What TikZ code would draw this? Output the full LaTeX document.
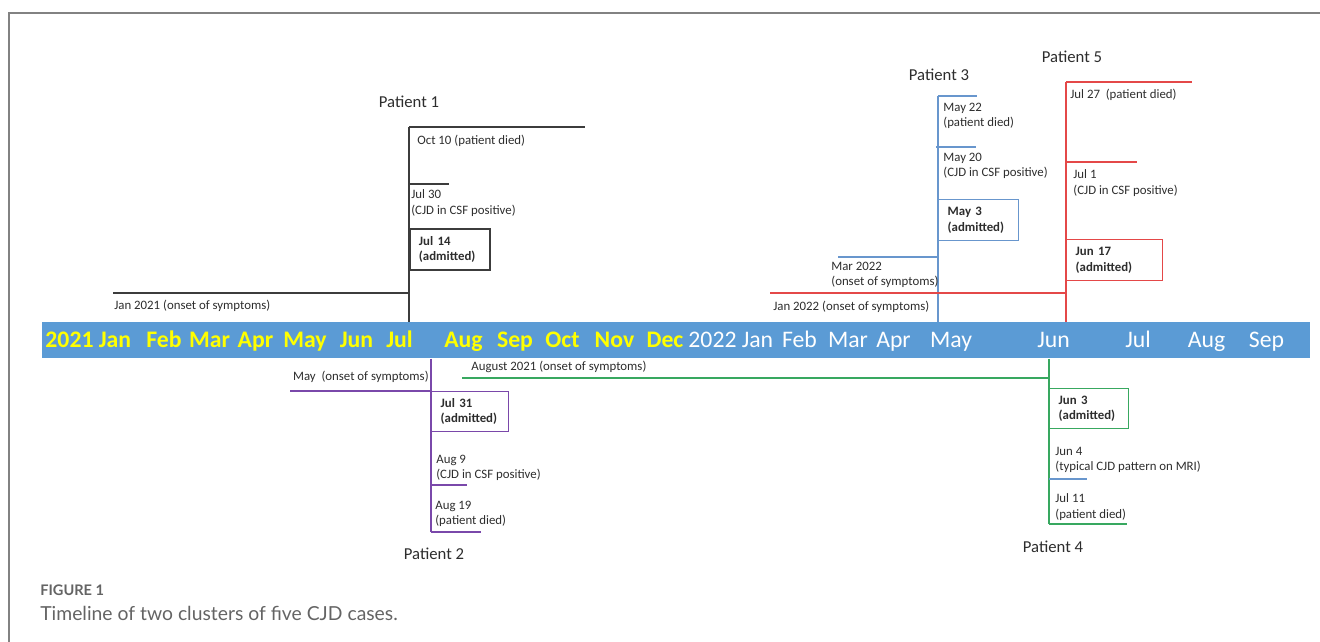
\documentclass[tikz,border=0pt]{standalone}
\usepackage{fontspec}
\setmainfont{Carlito}
\newfontfamily\capfont{Lato}
\usetikzlibrary{positioning}

\definecolor{barblue}{RGB}{91,155,213}
\definecolor{baryellow}{RGB}{255,255,0}
\definecolor{pone}{RGB}{60,60,60}
\definecolor{ptwo}{RGB}{122,72,170}
\definecolor{pthree}{RGB}{104,150,205}
\definecolor{pfour}{RGB}{56,168,96}
\definecolor{pfive}{RGB}{228,72,72}
\definecolor{txtgray}{RGB}{45,45,45}
\definecolor{framegray}{RGB}{130,130,130}
\definecolor{capgray}{RGB}{100,100,100}

\tikzset{
  evtext/.style={anchor=west, align=left, inner sep=0pt},
  ptitle/.style={inner sep=0pt, font=\fontsize{9.5}{11}\selectfont},
  admbox/.style={draw, line width=0.8pt, anchor=north west, align=left,
    inner xsep=1.8mm, inner ysep=0pt, font=\fontsize{7.3}{8.8}\selectfont\bfseries},
  tline/.style={line width=0.8pt},
  month/.style={anchor=base, inner sep=0pt, font=\fontsize{13.5}{14}\selectfont}
}

\begin{document}
\begin{tikzpicture}[x=0.2mm, y=-0.2mm, font=\fontsize{7.3}{8.8}\selectfont, text=txtgray]

\useasboundingbox (0,0) rectangle (1320,642);

%--- figure frame (top and left only)
\draw[framegray, line width=1.1pt] (9,642) -- (9,13) -- (1320,13);

%--- the time axis bar
\node[fill=barblue, inner sep=0pt, minimum width=253.6mm, minimum height=7.2mm,
  anchor=north west] (axis) at (42,322) {};

% 2021 in yellow bold
\foreach \lbl/\xc [count=\i] in {2021/69.5, Jan/115, Feb/164, Mar/209.5, Apr/255.5,
    May/305, Jun/356.5, Jul/399.5, Aug/463.5, Sep/515, Oct/562.5, Nov/614.5, Dec/665}
  \node[month, text=baryellow, font=\fontsize{13.5}{14}\selectfont\bfseries] (ya\i) at (\xc,347) {\lbl};
% 2022 in white
\foreach \lbl/\xc [count=\i] in {2022/712.5, Jan/757.5, Feb/799.5, Mar/848, Apr/893.5,
    May/951, Jun/1053.5, Jul/1138, Aug/1206.5, Sep/1266.5}
  \node[month, text=white] (yb\i) at (\xc,347) {\lbl};

%--- Patient 1 (above, black)
\node[ptitle] (p1title) at (409,102) {Patient 1};
\coordinate (p1top) at (409,127);
\coordinate (p1died) at (585,127);
\coordinate (p1csf) at (409,184);
\coordinate (p1csfend) at (449,184);
\coordinate (p1onset) at (113,293);
\coordinate (p1onsetend) at (409,293);
\draw[tline, pone] (p1top) -- (p1top |- axis.north);
\draw[tline, pone] (p1top) -- (p1died);
\draw[tline, pone] (p1csf) -- (p1csfend);
\draw[tline, pone] (p1onset) -- (p1onsetend);
\node[evtext] (p1lbldied) at (417,141) {Oct 10 (patient died)};
\node[evtext] (p1lblcsf) at (411,203) {Jul 30\\(CJD in CSF positive)};
\node[admbox, draw=pone, line width=1.1pt, minimum width=16mm, minimum height=8.2mm,
  text width=12.4mm] (p1adm) at (409,228) {Jul 14\\(admitted)};
\node[evtext] (p1lblonset) at (114,306) {Jan 2021 (onset of symptoms)};

%--- Patient 2 (below, purple)
\coordinate (p2bot) at (431,532);
\coordinate (p2died) at (481,532);
\coordinate (p2csf) at (431,485);
\coordinate (p2csfend) at (467,485);
\coordinate (p2onset) at (290,391);
\coordinate (p2onsetend) at (431,391);
\draw[tline, ptwo] (p2bot |- axis.south) -- (p2bot);
\draw[tline, ptwo] (p2bot) -- (p2died);
\draw[tline, ptwo] (p2csf) -- (p2csfend);
\draw[tline, ptwo] (p2onset) -- (p2onsetend);
\node[evtext, anchor=east] (p2lblonset) at (429,377) {May\ \ (onset of symptoms)};
\node[admbox, draw=ptwo, minimum width=15.4mm, minimum height=8mm,
  text width=11.8mm] (p2adm) at (431,391) {Jul 31\\(admitted)};
\node[evtext] (p2lblcsf) at (436,468) {Aug 9\\(CJD in CSF positive)};
\node[evtext] (p2lbldied) at (435,514) {Aug 19\\(patient died)};
\node[ptitle] (p2title) at (434,554) {Patient 2};

%--- Patient 3 (above, blue)
\node[ptitle] (p3title) at (939,75) {Patient 3};
\coordinate (p3top) at (938,96);
\coordinate (p3died) at (977,96);
\coordinate (p3csf) at (936,147);
\coordinate (p3csfend) at (976,147);
\coordinate (p3onset) at (838,257);
\coordinate (p3onsetend) at (938,257);
\draw[tline, pthree] (p3top) -- (p3top |- axis.north);
\draw[tline, pthree] (p3top) -- (p3died);
\draw[tline, pthree] (p3csf) -- (p3csfend);
\draw[tline, pthree] (p3onset) -- (p3onsetend);
\node[evtext] (p3lbldied) at (943,116) {May 22\\(patient died)};
\node[evtext] (p3lblcsf) at (943,166) {May 20\\(CJD in CSF positive)};
\node[admbox, draw=pthree, minimum width=16mm, minimum height=8.2mm,
  text width=12.4mm] (p3adm) at (938,199) {May 3\\(admitted)};
\node[evtext] (p3lblonset) at (831,275) {Mar 2022\\(onset of symptoms)};

%--- Patient 5 (above, red)
\node[ptitle] (p5title) at (1072,57) {Patient 5};
\coordinate (p5top) at (1066,82);
\coordinate (p5died) at (1192,82);
\coordinate (p5csf) at (1066,162);
\coordinate (p5csfend) at (1137,162);
\coordinate (p5onset) at (770,293);
\coordinate (p5onsetend) at (1066,293);
\draw[tline, pfive] (p5top) -- (p5top |- axis.north);
\draw[tline, pfive] (p5top) -- (p5died);
\draw[tline, pfive] (p5csf) -- (p5csfend);
\draw[tline, pfive] (p5onset) -- (p5onsetend);
\node[evtext] (p5lbldied) at (1070,95) {Jul 27\ \ (patient died)};
\node[evtext] (p5lblcsf) at (1073,183) {Jul 1\\(CJD in CSF positive)};
\node[admbox, draw=pfive, minimum width=19.2mm, minimum height=8.2mm,
  text width=15.6mm] (p5adm) at (1066,239) {Jun 17\\(admitted)};
\node[evtext] (p5lblonset) at (773,307) {Jan 2022 (onset of symptoms)};

%--- Patient 4 (below, green)
\coordinate (p4bot) at (1049,524);
\coordinate (p4died) at (1127,524);
\coordinate (p4mri) at (1049,479);
\coordinate (p4mriend) at (1087,479);
\coordinate (p4onset) at (462,378);
\coordinate (p4onsetend) at (1049,378);
\draw[tline, pfour] (p4bot |- axis.south) -- (p4bot);
\draw[tline, pfour] (p4bot) -- (p4died);
\draw[tline, pthree] (p4mri) -- (p4mriend);
\draw[tline, pfour] (p4onset) -- (p4onsetend);
\node[evtext] (p4lblonset) at (471,367) {August 2021 (onset of symptoms)};
\node[admbox, draw=pfour, minimum width=15.8mm, minimum height=8mm,
  text width=12.2mm] (p4adm) at (1049,388) {Jun 3\\(admitted)};
\node[evtext] (p4lblmri) at (1055,460) {Jun 4\\(typical CJD pattern on MRI)};
\node[evtext] (p4lbldied) at (1055,507) {Jul 11\\(patient died)};
\node[ptitle] (p4title) at (1053,547) {Patient 4};

%--- caption
\node[anchor=west, inner sep=0pt, text=capgray,
  font=\capfont\bfseries\fontsize{8.3}{10}\selectfont] (figlbl) at (40,590) {FIGURE 1};
\node[anchor=west, inner sep=0pt, text=capgray,
  font=\capfont\fontsize{11}{13}\selectfont] (figcap) at (40,613) {Timeline of two clusters of five CJD cases.};

\end{tikzpicture}
\end{document}
